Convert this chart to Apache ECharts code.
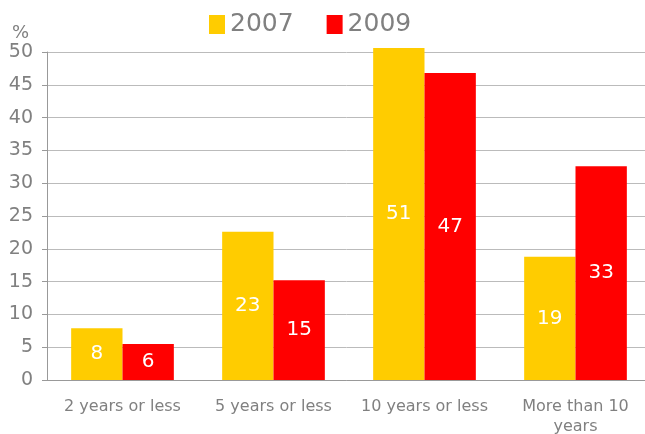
<!DOCTYPE html>
<html>
<head>
<meta charset="utf-8">
<script src="https://cdn.jsdelivr.net/npm/echarts@6/dist/echarts.min.js"></script>
<style>
  html, body { margin: 0; padding: 0; background: #fff; }
  #chart { width: 645px; height: 434px; }
</style>
</head>
<body>
<div id="chart"></div>
<script>
var categories = ['2 years or less', '5 years or less', '10 years or less', 'More than 10\nyears']
var values2007 = [7.9, 22.6, 50.6, 18.8]
var values2009 = [5.5, 15.2, 46.8, 32.6]
var yTicks = [0, 5, 10, 15, 20, 25, 30, 35, 40, 45, 50]

var chart = echarts.init(document.getElementById('chart'))
var grey = '#808080'
var font = 'DejaVu Sans, Verdana, sans-serif'

var label = {
  show: true,
  position: 'inside',
  color: '#fff',
  fontSize: 20,
  fontFamily: font,
  formatter: function (p) { return Math.round(p.value) }
}

chart.setOption({
  animation: false,
  textStyle: { fontFamily: font },
  legend: {
    data: ['2007', '2009'],
    top: 7,
    left: 204,
    itemWidth: 16,
    itemHeight: 19,
    itemGap: 33,
    icon: 'rect',
    textStyle: { color: grey, fontSize: 25, fontFamily: font }
  },
  grid: { left: 47, width: 604, top: 52, height: 328, outerBoundsMode: 'none' },
  xAxis: {
    type: 'category',
    data: categories,
    axisLine: { lineStyle: { color: '#999', width: 1 } },
    axisTick: { show: false },
    axisLabel: { color: grey, fontSize: 16, fontFamily: font, margin: 17, lineHeight: 20, interval: 0 }
  },
  yAxis: {
    type: 'value',
    min: yTicks[0],
    max: yTicks[yTicks.length - 1],
    interval: 5,
    name: '%',
    nameLocation: 'end',
    nameGap: 10,
    nameTextStyle: { color: grey, fontSize: 18, fontFamily: font, align: 'right', padding: [0, 18, 0, 0] },
    axisLine: { show: true, lineStyle: { color: '#999' } },
    axisTick: { show: true, length: 5, lineStyle: { color: '#999' } },
    axisLabel: { color: grey, fontSize: 19, fontFamily: font, margin: 14 },
    splitLine: { lineStyle: { color: '#bbb' } }
  },
  series: [
    {
      name: '2007',
      type: 'bar',
      data: values2007,
      clip: false,
      barGap: '0%',
      barCategoryGap: '32%',
      itemStyle: { color: '#ffcc00' },
      label: label
    },
    {
      name: '2009',
      type: 'bar',
      data: values2009,
      clip: false,
      itemStyle: { color: '#ff0000' },
      label: label
    }
  ]
})
</script>
</body>
</html>
